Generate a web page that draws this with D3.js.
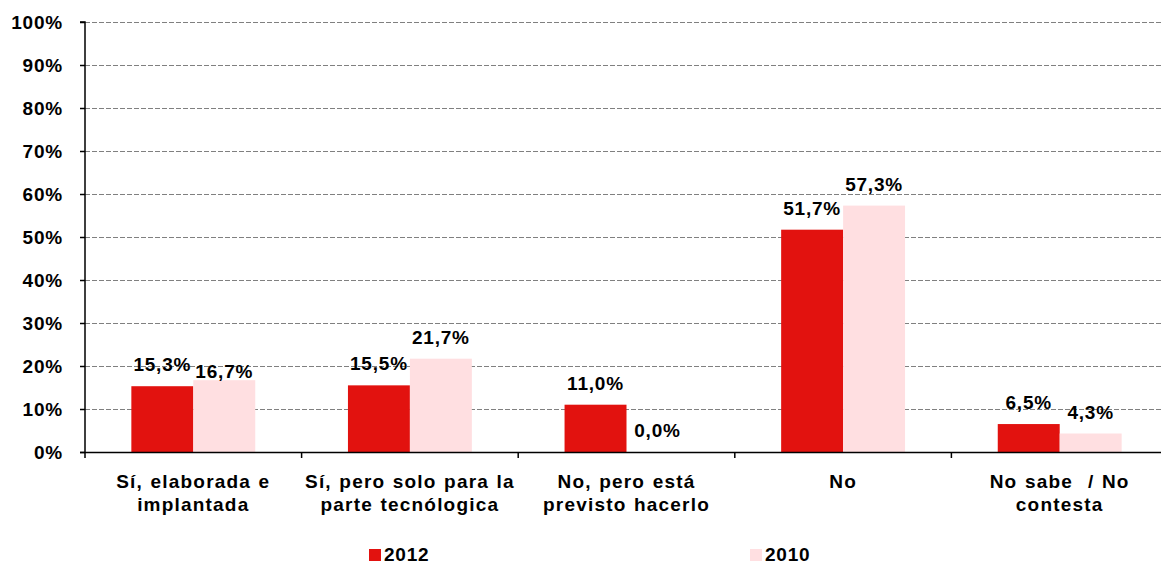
<html>
<head>
<meta charset="utf-8">
<script src="https://d3js.org/d3.v7.min.js"></script>
<style>
  body { margin: 0; background: white; }
  text { font-family: "Liberation Sans", Arial, sans-serif; font-weight: bold; }
</style>
</head>
<body>
<svg width="1161" height="565"></svg>
<script>
  var categories = [
    ["Sí, elaborada e", "implantada"],
    ["Sí, pero solo para la", "parte tecnólogica"],
    ["No, pero está", "previsto hacerlo"],
    ["No"],
    ["No sabe  / No", "contesta"]
  ];
  var series = ["2012", "2010"];
  var values2012 = [15.3, 15.5, 11.0, 51.7, 6.5];
  var values2010 = [16.7, 21.7, 0.0, 57.3, 4.3];
  var yTicks = [0, 10, 20, 30, 40, 50, 60, 70, 80, 90, 100];
  var colors = ["#e2120f", "#ffdfe1"];

  var svg = d3.select("svg");
  var plotLeft = 85, plotRight = 1168, plotTop = 22, plotBottom = 452;

  var x = d3.scaleBand().domain(d3.range(categories.length)).range([plotLeft, plotRight]);
  var xs = d3.scaleBand().domain(series).range([x.bandwidth() * 0.214, x.bandwidth() * 0.786]);
  var y = d3.scaleLinear().domain([0, 100]).range([plotBottom, plotTop]);

  // gridlines
  svg.append("g").selectAll("line")
    .data(yTicks.filter(function(d){ return d > 0; }))
    .enter().append("line")
    .attr("x1", plotLeft).attr("x2", plotRight)
    .attr("y1", function(d){ return Math.round(y(d)) + 0.5; })
    .attr("y2", function(d){ return Math.round(y(d)) + 0.5; })
    .attr("stroke", "#808080")
    .attr("stroke-width", 1)
    .attr("stroke-dasharray", "5,2");

  // bars
  var data = [values2012, values2010];
  data.forEach(function(vals, s){
    svg.append("g").selectAll("rect")
      .data(vals)
      .enter().append("rect")
      .attr("x", function(d, i){ return x(i) + xs(series[s]); })
      .attr("y", function(d){ return y(d); })
      .attr("width", xs.bandwidth())
      .attr("height", function(d){ return plotBottom - y(d); })
      .attr("fill", colors[s]);
  });

  // y axis
  var yAxis = svg.append("g")
    .attr("transform", "translate(" + plotLeft + ",0)")
    .call(d3.axisLeft(y).tickValues(yTicks).tickSize(5).tickPadding(17)
      .tickFormat(function(d){ return d + "%"; }));
  yAxis.selectAll("text").attr("font-size", 19).attr("fill", "#000")
    .attr("letter-spacing", 0.8)
    .style("font-family", "Liberation Sans, Arial, sans-serif").style("font-weight", "bold");
  yAxis.selectAll("line").attr("stroke", "#000").attr("stroke-width", 1.5);
  yAxis.select(".domain").attr("stroke", "#000").attr("stroke-width", 1.5)
    .attr("d", "M-5," + plotTop + "H0V" + (plotBottom + 6));

  // x axis
  var xAxisG = svg.append("g");
  xAxisG.append("line")
    .attr("x1", plotLeft - 5).attr("x2", plotRight)
    .attr("y1", plotBottom + 0.5).attr("y2", plotBottom + 0.5)
    .attr("stroke", "#000").attr("stroke-width", 1.5);
  xAxisG.selectAll("line.tick")
    .data(d3.range(1, categories.length + 1))
    .enter().append("line")
    .attr("class", "tick")
    .attr("x1", function(i){ return plotLeft + i * x.step(); })
    .attr("x2", function(i){ return plotLeft + i * x.step(); })
    .attr("y1", plotBottom).attr("y2", plotBottom + 6)
    .attr("stroke", "#000").attr("stroke-width", 1.5);

  // category labels
  categories.forEach(function(lines, i){
    var t = svg.append("text")
      .attr("x", x(i) + x.bandwidth() / 2)
      .attr("y", 488)
      .attr("text-anchor", "middle")
      .attr("font-size", 19)
      .attr("letter-spacing", 1.2)
      .attr("word-spacing", 1)
      .attr("fill", "#000");
    lines.forEach(function(l, j){
      t.append("tspan")
        .attr("x", x(i) + x.bandwidth() / 2)
        .attr("dy", j === 0 ? 0 : 23)
        .style("white-space", "pre")
        .text(l);
    });
  });

  // value labels (a 2010 label that would collide with its 2012 neighbour sits right on its bar)
  data.forEach(function(vals, s){
    svg.append("g").selectAll("text")
      .data(vals)
      .enter().append("text")
      .attr("x", function(d, i){ return x(i) + xs(series[s]) + xs.bandwidth() / 2; })
      .attr("y", function(d, i){
        var off = 15;
        if (s === 1 && Math.abs(y(d) - y(values2012[i])) < 8) off = 2;
        return y(d) - off;
      })
      .attr("text-anchor", "middle")
      .attr("font-size", 19)
      .attr("letter-spacing", 0.8)
      .attr("fill", "#000")
      .text(function(d){ return d.toFixed(1).replace(".", ",") + "%"; });
  });

  // legend
  var legendX = [369, 750];
  series.forEach(function(s, i){
    svg.append("rect")
      .attr("x", legendX[i]).attr("y", 549)
      .attr("width", 12).attr("height", 12)
      .attr("fill", colors[i]);
    svg.append("text")
      .attr("x", legendX[i] + 15).attr("y", 561)
      .attr("font-size", 19)
      .attr("letter-spacing", 0.8)
      .attr("fill", "#000")
      .text(s);
  });
</script>
</body>
</html>
